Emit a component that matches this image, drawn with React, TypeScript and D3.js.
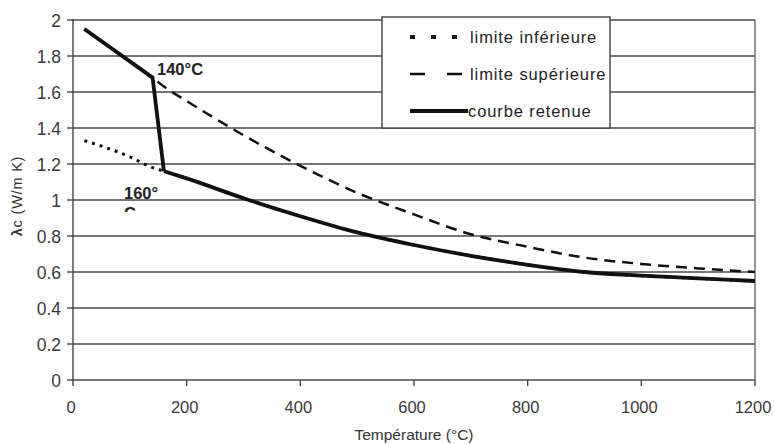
import React from "react";
import * as d3 from "d3";

const temps = [20, 100, 140, 160, 200, 300, 400, 500, 600, 700, 800, 900, 1000, 1100, 1200];
const lowerLimit = [1.33, 1.24, 1.18, 1.16, 1.12, 1.01, 0.91, 0.82, 0.75, 0.69, 0.64, 0.6, 0.58, 0.565, 0.55];
const upperLimit = [1.95, 1.77, 1.68, 1.63, 1.55, 1.36, 1.19, 1.04, 0.92, 0.81, 0.74, 0.68, 0.645, 0.62, 0.6];
const retainedTemps = [20, 100, 140, 160, 200, 300, 400, 500, 600, 700, 800, 900, 1000, 1100, 1200];
const retainedCurve = [1.95, 1.77, 1.68, 1.16, 1.12, 1.01, 0.91, 0.82, 0.75, 0.69, 0.64, 0.6, 0.58, 0.565, 0.55];
const xTicks = [0, 200, 400, 600, 800, 1000, 1200];
const yTicks = [0, 0.2, 0.4, 0.6, 0.8, 1, 1.2, 1.4, 1.6, 1.8, 2];
const legendLabels = ["limite inférieure", "limite supérieure", "courbe retenue"];

export default function App() {
  const W = 774, H = 444;
  const x = d3.scaleLinear().domain([0, 1200]).range([73, 755]);
  const y = d3.scaleLinear().domain([0, 2]).range([380, 20]);
  const line = d3.line<[number, number]>().x(d => x(d[0])).y(d => y(d[1])).curve(d3.curveMonotoneX);
  const lineStraight = d3.line<[number, number]>().x(d => x(d[0])).y(d => y(d[1]));
  const lower = line(temps.map((t, i) => [t, lowerLimit[i]]) as [number, number][]) || "";
  const upper = line(temps.map((t, i) => [t, upperLimit[i]]) as [number, number][]) || "";
  const retPts = retainedTemps.map((t, i) => [t, retainedCurve[i]]) as [number, number][];
  const retainedA = lineStraight(retPts.slice(0, 4)) || "";
  const retainedB = line(retPts.slice(3)) || "";
  const sans = "'Liberation Sans', Arial, sans-serif";
  return (
    <svg width={W} height={H} style={{ position: "absolute", left: 0, top: 0, background: "#fff" }}>
      <defs>
        <clipPath id="cclip">
          <rect x={118} y={203} width={30} height={9} />
        </clipPath>
      </defs>
      <rect x={0} y={0} width={W} height={H} fill="#fff" />
      {yTicks.map(t => (
        <g key={t}>
          <line x1={x(0)} x2={x(1200)} y1={y(t)} y2={y(t)} stroke="#4a4a4a" strokeWidth={1.4} />
          <line x1={x(0) - 6} x2={x(0)} y1={y(t)} y2={y(t)} stroke="#444" strokeWidth={1.4} />
          <text x={61} y={y(t) + 6.5} textAnchor="end" fontFamily={sans} fontSize={17.5} fill="#3a3a3a">
            {String(t)}
          </text>
        </g>
      ))}
      <line x1={x(0)} x2={x(0)} y1={y(2) - 1} y2={y(0) + 1} stroke="#444" strokeWidth={1.4} />
      <line x1={x(1200)} x2={x(1200)} y1={y(2)} y2={y(0)} stroke="#666" strokeWidth={1.4} />
      {xTicks.map(t => (
        <g key={t}>
          <line x1={x(t)} x2={x(t)} y1={y(0)} y2={y(0) + 6} stroke="#444" strokeWidth={1.4} />
          <text x={x(t) - 2} y={413} textAnchor="middle" fontFamily={sans} fontSize={16.5} fill="#3a3a3a">
            {String(t)}
          </text>
        </g>
      ))}
      <text x={414} y={440} textAnchor="middle" fontFamily={sans} fontSize={15.5} fill="#333">
        Température (°C)
      </text>
      <text
        transform={`translate(22, 196) rotate(-90)`}
        textAnchor="middle"
        fontFamily={sans}
        fontSize={14.5}
        letterSpacing={0.8}
        fill="#333"
      >
        <tspan fontWeight="bold">λ</tspan>c (W/m K)
      </text>
      <path d={lower} fill="none" stroke="#111" strokeWidth={3} strokeDasharray="3,5" />
      <path d={upper} fill="none" stroke="#111" strokeWidth={2.5} strokeDasharray="11,7" />
      <path d={retainedA} fill="none" stroke="#111" strokeWidth={3.8} strokeLinejoin="round" />
      <path d={retainedB} fill="none" stroke="#111" strokeWidth={3.8} strokeLinejoin="round" />
      <text x={157} y={75} fontFamily={sans} fontWeight="bold" fontSize={16.5} fill="#222">
        140°C
      </text>
      <text x={124} y={199} fontFamily={sans} fontWeight="bold" fontSize={16.5} fill="#222">
        160°
      </text>
      <text x={124} y={219} fontFamily={sans} fontWeight="bold" fontSize={16.5} fill="#222" clipPath="url(#cclip)">
        C
      </text>
      <rect x={382} y={17} width={228} height={111} fill="#fff" stroke="#333" strokeWidth={1.3} />
      {legendLabels.map((lab, i) => {
        const ly = 37 + i * 37;
        return (
          <g key={lab}>
            <line
              x1={410}
              x2={i === 0 ? 458 : i === 1 ? 462 : 468}
              y1={ly}
              y2={ly}
              stroke="#111"
              strokeWidth={i === 0 ? 4 : i === 1 ? 2.5 : 4}
              strokeDasharray={i === 0 ? "5,16" : i === 1 ? "15,22" : "none"}
            />
            <text x={i === 2 ? 468 : 470} y={ly + 6} fontFamily={sans} fontSize={16.5} letterSpacing={0.9} fill="#222">
              {lab}
            </text>
          </g>
        );
      })}
    </svg>
  );
}
